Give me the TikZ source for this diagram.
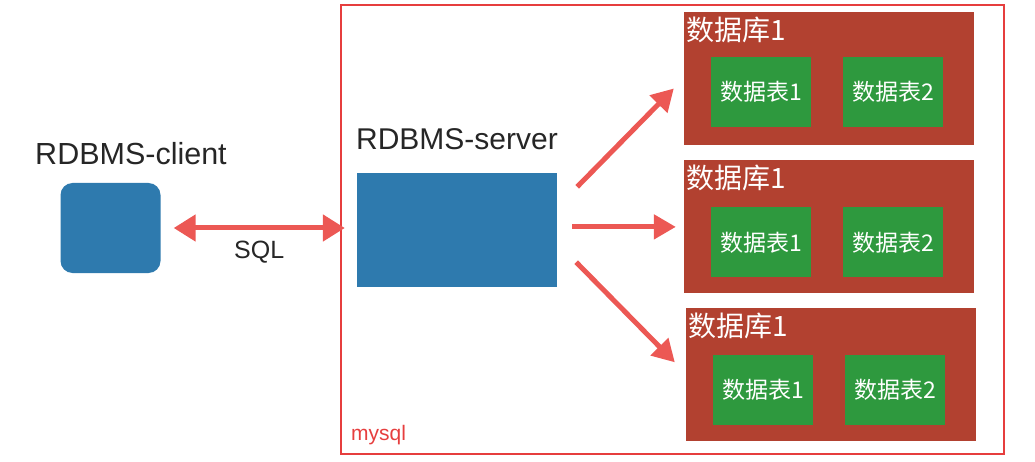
\documentclass[tikz,border=0pt]{standalone}
\usepackage{fontspec}
\setmainfont{Liberation Sans}
\newfontfamily\cjk{Noto Sans CJK SC}
\usetikzlibrary{arrows.meta,positioning}

\definecolor{boxblue}{RGB}{46,122,174}
\definecolor{dbred}{RGB}{178,65,48}
\definecolor{tablegreen}{RGB}{46,153,62}
\definecolor{framered}{RGB}{230,62,62}
\definecolor{arrowred}{RGB}{236,88,84}

\tikzset{
  hostbox/.style={fill=boxblue, inner sep=0pt},
  hostlabel/.style={anchor=base, text=black!85, inner sep=0pt},
  dbbox/.style={fill=dbred, minimum width=290, minimum height=133, inner sep=0pt},
  dblabel/.style={anchor=north west, text=white, inner sep=2pt, font=\cjk\fontsize{28}{30}\selectfont},
  tablebox/.style={fill=tablegreen, minimum width=100, minimum height=70, inner sep=0pt,
    text=white, font=\cjk\fontsize{23}{25}\selectfont},
  link/.style={arrowred, line width=5pt, -{Triangle[length=22pt,width=24pt]}},
}

\begin{document}
\begin{tikzpicture}[x=1pt, y=-1pt]
\useasboundingbox (0,0) rectangle (1035,462);

% client side
\node[hostbox, minimum width=100, minimum height=90, rounded corners=12pt] (client) at (110.5,228) {};
\node[hostlabel, font=\fontsize{30.5}{33}\selectfont] (clientlabel) at (131,165) {RDBMS-client};

% mysql frame
\draw[framered, line width=2.8pt] (341,5) rectangle (1004,454);
\node[anchor=base west, text=framered, inner sep=0pt, font=\fontsize{21}{23}\selectfont] (mysql) at (351,440) {mysql};

% server
\node[hostbox, minimum width=200, minimum height=114] (server) at (457,230) {};
\node[hostlabel, font=\fontsize{30}{33}\selectfont] (serverlabel) at (457,150) {RDBMS-server};

% databases
\node[dbbox] (db1) at (829,78.5) {};
\node[dbbox, below=15pt of db1] (db2) {};
\node[dbbox, below=14pt of db2, xshift=2pt] (db3) {};

\node[dblabel] (db1name) at ([shift={(0,3)}]db1.north west) {数据库1};
\node[dblabel] (db2name) at ([shift={(0,3)}]db2.north west) {数据库1};
\node[dblabel] (db3name) at ([shift={(0,3)}]db3.north west) {数据库1};

\node[tablebox, anchor=north west] (t11) at ([shift={(27,45)}]db1.north west) {数据表1};
\node[tablebox, right=32pt of t11] (t12) {数据表2};
\node[tablebox, anchor=north west] (t21) at ([shift={(27,47)}]db2.north west) {数据表1};
\node[tablebox, right=32pt of t21] (t22) {数据表2};
\node[tablebox, anchor=north west] (t31) at ([shift={(27,47)}]db3.north west) {数据表1};
\node[tablebox, right=32pt of t31] (t32) {数据表2};

% connectors
\draw[link, {Triangle[length=22pt,width=26pt]}-{Triangle[length=22pt,width=26pt]}]
  (client.east) ++(13,0) -- ([xshift=-12pt]server.west |- client.east)
  node[midway, below=7pt, text=black!85, font=\fontsize{25}{27}\selectfont] (sql) {SQL};
\draw[link] ([shift={(20,14)}]server.north east) -- ([shift={(-10,10)}]db1.west);
\draw[link] (server.east |- db2.west) ++(15,0) -- ([xshift=-8pt]db2.west);
\draw[link] ([shift={(19,-25)}]server.south east) -- ([shift={(-11,-12)}]db3.west);
\end{tikzpicture}
\end{document}
